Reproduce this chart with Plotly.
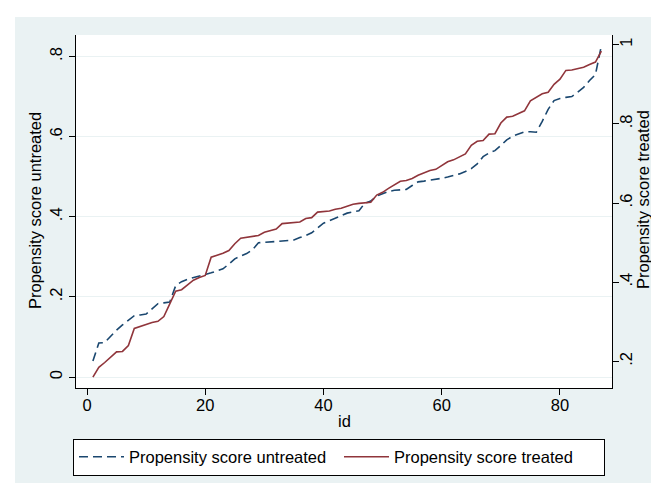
import plotly.graph_objects as go

ids = list(range(1, 88))

untreated = [0.040, 0.085, 0.086, 0.102, 0.117, 0.130, 0.142, 0.153, 0.155, 0.157,
             0.170, 0.183, 0.185, 0.187, 0.228, 0.238, 0.244, 0.248, 0.251, 0.256,
             0.260, 0.265, 0.270, 0.282, 0.295, 0.302, 0.308, 0.318, 0.335, 0.336,
             0.337, 0.338, 0.340, 0.341, 0.342, 0.348, 0.353, 0.360, 0.372, 0.384,
             0.390, 0.397, 0.403, 0.409, 0.412, 0.415, 0.434, 0.439, 0.452, 0.458,
             0.463, 0.466, 0.467, 0.468, 0.478, 0.487, 0.489, 0.491, 0.493, 0.496,
             0.499, 0.503, 0.507, 0.513, 0.520, 0.532, 0.550, 0.559, 0.565, 0.578,
             0.592, 0.601, 0.607, 0.612, 0.612, 0.611, 0.638, 0.668, 0.690, 0.695,
             0.698, 0.700, 0.711, 0.723, 0.740, 0.755, 0.827]

treated = [0.160, 0.185, 0.197, 0.211, 0.224, 0.225, 0.240, 0.283, 0.288, 0.294,
           0.298, 0.301, 0.313, 0.345, 0.377, 0.381, 0.393, 0.405, 0.412, 0.417,
           0.463, 0.468, 0.473, 0.480, 0.497, 0.511, 0.513, 0.515, 0.518, 0.526,
           0.530, 0.534, 0.548, 0.549, 0.550, 0.552, 0.561, 0.563, 0.577, 0.578,
           0.580, 0.584, 0.587, 0.592, 0.597, 0.599, 0.601, 0.602, 0.620, 0.627,
           0.637, 0.647, 0.655, 0.657, 0.662, 0.670, 0.676, 0.682, 0.685, 0.695,
           0.704, 0.709, 0.716, 0.724, 0.746, 0.756, 0.758, 0.774, 0.775, 0.802,
           0.817, 0.819, 0.826, 0.833, 0.858, 0.866, 0.876, 0.880, 0.900, 0.913,
           0.935, 0.936, 0.940, 0.943, 0.950, 0.956, 0.984]

x_ticks = [0, 20, 40, 60, 80]
y1_ticks = [0, 0.2, 0.4, 0.6, 0.8]
y1_labels = ["0", ".2", ".4", ".6", ".8"]
y2_ticks = [0.2, 0.4, 0.6, 0.8, 1.0]
y2_labels = [".2", ".4", ".6", ".8", "1"]

FONT = "Liberation Sans, Arial, sans-serif"
FS = 16.5
BG = "#EAF2F3"
BLUE = "#1A476F"
RED = "#90353B"

fig = go.Figure()
fig.add_trace(go.Scatter(x=ids, y=untreated, mode="lines", name="Propensity score untreated",
                         line=dict(color=BLUE, width=1.6, dash="9px,5px"), yaxis="y"))
fig.add_trace(go.Scatter(x=ids, y=treated, mode="lines", name="Propensity score treated",
                         line=dict(color=RED, width=1.6), yaxis="y2"))

L, R, T, B = 68, 604, 27, 380
W, H = 659, 483
pw, ph = R - L, B - T

def px(v):
    return (v - L) / pw

def py(v):
    return (B - v) / ph

# white strips at the image edges (the rest of the page is the light background)
for x0, x1, y0, y1 in [(0, W, 0, 9), (0, 7, 0, H), (656, W, 0, H), (0, W, 480, H)]:
    fig.add_shape(type="rect", xref="paper", yref="paper",
                  x0=px(x0), x1=px(x1), y0=py(y1), y1=py(y0),
                  fillcolor="white", line=dict(width=0), layer="above")

fig.add_annotation(text="Propensity score untreated", xref="paper", yref="paper",
                   x=px(27), y=py(203), textangle=-90, showarrow=False,
                   xanchor="center", yanchor="middle", font=dict(size=FS))
fig.add_annotation(text="Propensity score treated", xref="paper", yref="paper",
                   x=px(635), y=py(192), textangle=-90, showarrow=False,
                   xanchor="center", yanchor="middle", font=dict(size=FS))
fig.add_annotation(text="id", xref="paper", yref="paper",
                   x=px(336), y=py(413), showarrow=False,
                   xanchor="center", yanchor="middle", font=dict(size=FS))

fig.update_layout(
    width=W, height=H,
    margin=dict(l=L, r=W - R, t=T, b=H - B, autoexpand=False),
    paper_bgcolor=BG, plot_bgcolor="white",
    font=dict(family=FONT, size=FS, color="black"),
    xaxis=dict(range=[-1.86, 88.8], tickvals=x_ticks, showgrid=False, zeroline=False,
               showline=True, linecolor="black", linewidth=1, ticks="outside",
               ticklen=6, tickcolor="black", ticklabelstandoff=-4),
    yaxis=dict(range=[-0.0274, 0.8536], tickvals=y1_ticks, ticktext=y1_labels,
               tickangle=-90, showgrid=True, gridcolor=BG, gridwidth=1, zeroline=False,
               showline=True, linecolor="black", linewidth=1, ticks="outside",
               ticklen=6, tickcolor="black"),
    yaxis2=dict(range=[0.1326, 1.0245], tickvals=y2_ticks, ticktext=y2_labels,
                tickangle=-90, overlaying="y", side="right", showgrid=False, zeroline=False,
                showline=True, linecolor="black", linewidth=1, ticks="outside",
                ticklen=6, tickcolor="black", ticklabelstandoff=-7),
    legend=dict(orientation="h", x=px(331), xanchor="center", y=py(449), yanchor="middle",
                bordercolor="black", borderwidth=1, bgcolor="white",
                entrywidth=205, entrywidthmode="pixels", itemwidth=45, font=dict(size=FS)),
    showlegend=True,
)

fig.write_html("out.html")
